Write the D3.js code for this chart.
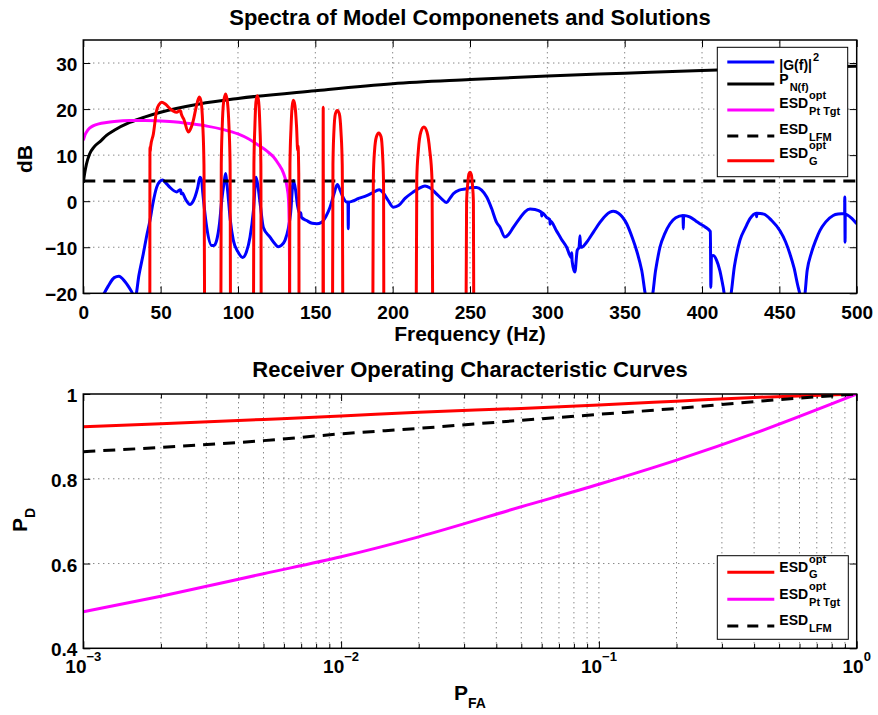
<!DOCTYPE html>
<html>
<head>
<meta charset="utf-8">
<script src="https://cdn.jsdelivr.net/npm/d3@7"></script>
<style>
body { margin: 0; background: #fff; }
text { font-family: "Liberation Sans", Arial, sans-serif; font-weight: bold; fill: #000; }
</style>
</head>
<body>
<div id="chart"></div>
<script>
var width = 878;
var height = 715;

// ---- spectra (dB vs Hz) ----
// |G(f)|^2
var gainSpec = [
    [12, -21], [16, -18.5], [20, -16.6], [23, -16.3], [27, -17.5], [31, -19.5], [33.5, -21],
    [36, -16], [38.8, -11.4], [41, -7.5], [43.1, -4.2], [45, -0.5], [47.4, 3.0], [49.5, 4.3],
    [51.3, 4.6], [53, 4.1], [56, 3.0], [60.4, 2.0], [62.5, 2.5], [63, 2.4], [63.3, 1.6], [64, 1.8],
    [66, 0.5], [69, -0.7], [71, 0], [72.2, 0.9], [74, 3], [75.4, 5.2], [76.5, 4.5], [77.2, 2],
    [79.8, -5.7], [83, -9.6], [84.5, -9.6], [86.2, -8.5], [88, -5], [89.5, 0.2], [91, 4], [92, 6],
    [92.8, 4], [93.7, 0.9], [95, -4], [97, -8.5], [100, -11], [103, -12.2], [105.5, -11],
    [107.8, -7.8], [110, -2], [111.7, 5.2], [113, 3], [114.5, -1], [116.4, -5.7], [120.7, -7.8],
    [124, -9.3], [126, -9.9], [128, -9.6], [130.4, -8.5], [132.5, -6], [134, -2.7], [135.8, 4.5],
    [137.2, 2.5], [138.5, -1], [140, -2.7], [140.6, -2.5], [141, -3.5], [144.4, -4.2], [148, -4.8],
    [150.9, -4.9], [154, -4.6], [157, -3.2], [159.5, -1.3], [162, 1.5], [164.2, 3.6], [166, 2.4],
    [168, 0.8], [170.3, -0.2], [171.1, -0.2], [171.3, -6.0], [171.5, -0.3], [174, 0], [178, 0.6],
    [183.2, 1.2], [187, 1.8], [191.3, 2.5], [194, 1.8], [197, 0.2], [200.4, -1.3], [204, -0.9],
    [208, 0.6], [213.3, 2.0], [217, 2.8], [220.9, 3.3], [224, 2.9], [228, 1.7], [232, 0.4],
    [234.9, -0.3], [237, 0.6], [239.2, 1.6], [243, 2.4], [247.8, 2.7], [251, 3.0], [254.3, 3.0],
    [257.5, 2.4], [260.8, 0.9], [264, -1.6], [267.2, -4.6], [269.3, -5.6], [272.6, -7.8],
    [275, -7.2], [278, -5.7], [282, -3.8], [285.5, -2.3], [288.8, -1.7], [292, -1.8], [296.2, -2.4],
    [296.4, -3.2], [296.6, -2.5], [299.5, -3.5], [301.6, -4.0], [301.8, -5.0], [302, -4.3],
    [306, -6.5], [309, -8.2], [312.5, -10], [315.6, -12.3], [315.8, -11.2], [316, -13],
    [317.8, -15.4], [319.3, -10.7], [320.5, -10], [321.1, -7.5], [321.5, -10], [322.2, -10],
    [325.4, -8.9], [330, -6.6], [334, -4.6], [338, -3.0], [342.6, -2.2], [346, -2.6], [351.3, -4.9],
    [355, -8], [357.7, -10.7], [361, -15], [364.2, -21], [367.4, -21], [370, -15], [372.8, -10],
    [376, -7], [379.3, -4.9], [383, -3.6], [387.7, -3.1], [387.9, -6.0], [388.1, -3.1], [392, -3.4],
    [396, -4.3], [398.6, -4.9], [402, -5.6], [405.4, -6.6], [405.7, -18.7], [406.1, -12],
    [407.3, -11.8], [409.5, -12.9], [411.5, -15], [413.7, -18.7], [415, -21], [418, -21],
    [421, -14], [424.5, -8.5], [428, -5.8], [431, -3.8], [435.1, -2.6], [435.3, -3.4],
    [435.5, -2.6], [440, -2.8], [445, -4.2], [450.4, -6.4], [454, -8.8], [456.8, -11.4],
    [459.5, -14.5], [462.2, -18.7], [464.4, -21], [466, -21], [468, -15], [470.8, -11.1],
    [473.5, -8.5], [476.2, -6.4], [480, -4.5], [484.8, -3.1], [488, -2.8], [492.2, -2.7],
    [492.3, 0.9], [492.5, -8.9], [492.6, -2.8], [494, -3.0], [497, -3.8], [500, -4.9]
];

// P_N(f)
var noiseFreq = [0, 1, 2, 4, 7, 11, 15, 20, 30, 40, 50, 75, 100, 150, 200, 250, 300, 350, 400, 450, 500];
var noiseDb = [4.0, 6.3, 8.0, 10.2, 11.8, 13.0, 14.3, 15.4, 17.1, 18.3, 19.3, 21.1, 22.3, 24.0, 25.5, 26.4, 27.2, 27.8, 28.4, 28.9, 29.3];

// ESD opt, point target
var ptFreq = [0, 1, 3, 6, 10, 15, 20, 30, 40, 50, 60, 70, 80, 90, 100, 107, 114, 119, 123, 126, 129.5, 131.5, 132.7, 133.2, 133.5];
var ptDb = [13.2, 14.3, 15.5, 16.3, 16.8, 17.1, 17.3, 17.5, 17.5, 17.4, 17.2, 16.8, 16.3, 15.6, 14.6, 13.5, 12.0, 10.8, 9.6, 8.2, 6.0, 3.5, 0.2, -8, -25];

// ESD LFM
var lfmFreq = [0, 500];
var lfmDb = [4.4, 4.4];

// ESD opt, G
var esdG = [
    [43.0, -40], [43.1, 11.7], [43.3, 10.8], [43.5, 11.8], [45.3, 14.6], [47.4, 19.7], [49, 21],
    [50.7, 21.5], [53, 21.1], [56, 20.1], [58, 19.6], [60.4, 19.3], [62.5, 19.7], [63, 19.5],
    [63.3, 19], [65, 17.8], [67.9, 15], [69.5, 15.8], [71.1, 17.5], [73, 20.5], [75, 22.6],
    [76.2, 21.5], [77.2, 16.8], [78, 8], [78.7, -40],
    [88.8, -40], [89.2, 8], [89.8, 16], [90.7, 21.5], [92, 23.3], [93.2, 21.5], [94.2, 16], [94.9, 8], [95.3, -40],
    [109.9, -40], [110.3, 8], [110.9, 16], [111.6, 21.5], [112.5, 22.9], [113.4, 21.5], [114.2, 16], [114.8, 8], [115.1, -40],
    [133.2, -40], [133.6, 8], [134.3, 16], [135, 20.5], [135.8, 21.9], [136.8, 20.8], [137.9, 16], [138.6, 11], [138.8, 12], [139.3, 6], [139.6, -40],
    [154.9, -40], [155.1, 20.4], [155.3, -40],
    [161, -40], [161.4, 8], [162, 15], [163, 19], [164.2, 19.7], [165.5, 19], [166.6, 15], [167.4, 8], [168, -40],
    [187, -40], [187.5, 5], [188.3, 11], [189.5, 14], [191, 14.8], [192.5, 14], [193.5, 10], [194.1, 4], [194.4, -40],
    [215, -40], [215.6, 5], [216.6, 11], [218.2, 15], [220.2, 16.1], [222.2, 15], [224, 11], [225.4, 5], [226.2, -40],
    [247.2, -40], [247.8, 0], [248.6, 4], [249.3, 5.9], [250, 6.3], [250.8, 5.8], [251.6, 3.5], [252.2, 0], [252.6, -40]
];

// ---- ROC curves ----
var pfa = [0.001, 0.002, 0.005, 0.01, 0.02, 0.05, 0.1, 0.2, 0.4, 1];
var rocG = [0.923, 0.930, 0.940, 0.948, 0.957, 0.966, 0.974, 0.983, 0.992, 1.0];
var rocPt = [0.486, 0.523, 0.576, 0.616, 0.663, 0.734, 0.787, 0.844, 0.907, 1.0];
var rocLfm = [0.864, 0.874, 0.890, 0.906, 0.919, 0.938, 0.952, 0.966, 0.982, 1.0];

// ticks
var specXTicks = [0, 50, 100, 150, 200, 250, 300, 350, 400, 450, 500];
var specYTicks = [-20, -10, 0, 10, 20, 30];
var rocXTicks = [1e-3, 1e-2, 1e-1, 1];
var rocXExp = ["\u22123", "\u22122", "\u22121", "0"];
var rocYTicks = [0.4, 0.6, 0.8, 1];

var svg = d3.select("#chart")
    .append("svg")
    .attr("width", width)
    .attr("height", height);

var x1 = d3.scaleLinear().domain([0, 500]).range([83.3, 856.7]);
var y1 = d3.scaleLinear().domain([-20, 35]).range([293.3, 40]);
var x2 = d3.scaleLog().domain([1e-3, 1]).range([83.3, 856.7]);
var y2 = d3.scaleLinear().domain([0.4, 1]).range([648.3, 394]);

var minorTicks = x2.ticks().filter(function(d) { return rocXTicks.indexOf(d) < 0 });

function drawGrid(g, xs, ys, xv, yv) {
    var yb = ys.range()[0], yt = ys.range()[1];
    var xl = xs.range()[0], xr = xs.range()[1];
    g.selectAll(".gx").data(xv).enter().append("line")
        .attr("x1", function(d) { return xs(d) }).attr("x2", function(d) { return xs(d) })
        .attr("y1", yb).attr("y2", yt);
    g.selectAll(".gy").data(yv).enter().append("line")
        .attr("x1", xl).attr("x2", xr)
        .attr("y1", function(d) { return ys(d) }).attr("y2", function(d) { return ys(d) });
    g.selectAll("line")
        .attr("stroke", "#555")
        .attr("stroke-width", 1)
        .attr("stroke-dasharray", "1,4");
}

function cleanAxis(sel, size) {
    sel.select(".domain").remove();
    sel.attr("font-size", size)
        .attr("font-family", "Liberation Sans, Arial, sans-serif");
    sel.selectAll("line").attr("stroke", "#000").attr("stroke-width", 1);
}

function drawBox(g, xs, ys) {
    g.append("rect")
        .attr("x", xs.range()[0]).attr("y", ys.range()[1])
        .attr("width", xs.range()[1] - xs.range()[0])
        .attr("height", ys.range()[0] - ys.range()[1])
        .attr("fill", "none").attr("stroke", "#000").attr("stroke-width", 1.5);
}

function clipFor(id, xs, ys) {
    svg.append("clipPath").attr("id", id).append("rect")
        .attr("x", xs.range()[0]).attr("y", ys.range()[1])
        .attr("width", xs.range()[1] - xs.range()[0])
        .attr("height", ys.range()[0] - ys.range()[1]);
}

function legendBox(g, x, y, w, h, entries, rows) {
    g.append("rect").attr("x", x).attr("y", y).attr("width", w).attr("height", h)
        .attr("fill", "#fff").attr("stroke", "#000").attr("stroke-width", 1);
    entries.forEach(function(e, i) {
        var ly = rows[i][0], by = rows[i][1];
        g.append("line")
            .attr("x1", x + 10).attr("x2", x + 57)
            .attr("y1", ly).attr("y2", ly)
            .attr("stroke", e.color).attr("stroke-width", 3)
            .attr("stroke-dasharray", e.dash ? "11,9" : null);
        var t = g.append("text").attr("x", x + 62).attr("y", by)
            .attr("font-size", 14).text(e.main);
        var tw = t.node().getComputedTextLength();
        if (e.sup) {
            g.append("text").attr("x", x + 63 + tw).attr("y", by - 9)
                .attr("font-size", 11).text(e.sup);
        }
        if (e.sub) {
            g.append("text").attr("x", x + 63 + tw).attr("y", by + 6.5)
                .attr("font-size", 11).text(e.sub);
        }
    });
}

// ================= top: spectra =================
var top_g = svg.append("g");
clipFor("clipTop", x1, y1);

drawGrid(top_g.append("g"), x1, y1,
    specXTicks.slice(1, -1), specYTicks.slice(1));

top_g.append("g").attr("transform", "translate(0," + y1.range()[0] + ")")
    .call(d3.axisBottom(x1).tickValues(specXTicks).tickSize(-7).tickSizeOuter(0).tickPadding(12).tickFormat(d3.format("d")))
    .call(cleanAxis, 19);
top_g.append("g").attr("transform", "translate(0," + y1.range()[1] + ")")
    .call(d3.axisTop(x1).tickValues(specXTicks).tickSize(-7).tickSizeOuter(0).tickFormat(""))
    .call(cleanAxis, 19);
top_g.append("g").attr("transform", "translate(" + x1.range()[0] + ",0)")
    .call(d3.axisLeft(y1).tickValues(specYTicks).tickSize(-7).tickSizeOuter(0).tickPadding(6).tickFormat(d3.format("d")))
    .call(cleanAxis, 19)
    .selectAll("text").attr("dy", "0.4em");
top_g.append("g").attr("transform", "translate(" + x1.range()[1] + ",0)")
    .call(d3.axisRight(y1).tickValues(specYTicks).tickSize(-7).tickSizeOuter(0).tickFormat(""))
    .call(cleanAxis, 19);

var line1 = d3.line()
    .x(function(d) { return x1(d[0]) })
    .y(function(d) { return y1(d[1]) })
    .curve(d3.curveMonotoneX);

var curves = top_g.append("g").attr("clip-path", "url(#clipTop)");
curves.append("path").attr("d", line1(gainSpec))
    .attr("fill", "none").attr("stroke", "#0000ff").attr("stroke-width", 3);
curves.append("path").attr("d", line1(d3.zip(noiseFreq, noiseDb)))
    .attr("fill", "none").attr("stroke", "#000").attr("stroke-width", 3);
curves.append("path").attr("d", line1(d3.zip(ptFreq, ptDb)))
    .attr("fill", "none").attr("stroke", "#ff00ff").attr("stroke-width", 3);
curves.append("path").attr("d", line1(d3.zip(lfmFreq, lfmDb)))
    .attr("fill", "none").attr("stroke", "#000").attr("stroke-width", 3)
    .attr("stroke-dasharray", "12,8");
curves.append("path").attr("d", line1(esdG))
    .attr("fill", "none").attr("stroke", "#ff0000").attr("stroke-width", 3)
    .attr("stroke-linejoin", "round");

drawBox(top_g, x1, y1);

top_g.append("text").attr("x", 470).attr("y", 25).attr("text-anchor", "middle")
    .attr("font-size", 22).text("Spectra of Model Componenets and Solutions");
top_g.append("text").attr("x", 470).attr("y", 341).attr("text-anchor", "middle")
    .attr("font-size", 21).text("Frequency (Hz)");
top_g.append("text").attr("transform", "translate(31.5,159) rotate(-90)")
    .attr("text-anchor", "middle").attr("font-size", 21).text("dB");

legendBox(top_g, 717.3, 47.3, 130.4, 129.4, [
    {color: "#0000ff", main: "|G(f)|", sup: "2"},
    {color: "#000", main: "P", sub: "N(f)"},
    {color: "#ff00ff", main: "ESD", sup: "opt", sub: "Pt Tgt"},
    {color: "#000", dash: true, main: "ESD", sub: "LFM"},
    {color: "#ff0000", main: "ESD", sup: "opt", sub: "G"}
], [[62, 69.5], [84, 84], [110, 108.3], [136, 134.3], [160.7, 158.3]]);

// ================= bottom: ROC =================
var bot_g = svg.append("g");
clipFor("clipBot", x2, y2);

drawGrid(bot_g.append("g"), x2, y2,
    minorTicks.concat([1e-2, 1e-1]), [0.6, 0.8]);

bot_g.append("g").attr("transform", "translate(0," + y2.range()[0] + ")")
    .call(d3.axisBottom(x2).tickValues(rocXTicks).tickSize(-7).tickSizeOuter(0).tickFormat(""))
    .call(cleanAxis, 19);
bot_g.append("g").attr("transform", "translate(0," + y2.range()[0] + ")")
    .call(d3.axisBottom(x2).tickValues(minorTicks).tickSize(-4.5).tickSizeOuter(0).tickFormat(""))
    .call(cleanAxis, 19);
bot_g.append("g").attr("transform", "translate(0," + y2.range()[1] + ")")
    .call(d3.axisTop(x2).tickValues(rocXTicks).tickSize(-7).tickSizeOuter(0).tickFormat(""))
    .call(cleanAxis, 19);
bot_g.append("g").attr("transform", "translate(0," + y2.range()[1] + ")")
    .call(d3.axisTop(x2).tickValues(minorTicks).tickSize(-4.5).tickSizeOuter(0).tickFormat(""))
    .call(cleanAxis, 19);
bot_g.append("g").attr("transform", "translate(" + x2.range()[0] + ",0)")
    .call(d3.axisLeft(y2).tickValues(rocYTicks).tickSize(-7).tickSizeOuter(0).tickPadding(6).tickFormat(function(d) { return String(d) }))
    .call(cleanAxis, 19)
    .selectAll("text").attr("dy", "0.4em");
bot_g.append("g").attr("transform", "translate(" + x2.range()[1] + ",0)")
    .call(d3.axisRight(y2).tickValues(rocYTicks).tickSize(-7).tickSizeOuter(0).tickFormat(""))
    .call(cleanAxis, 19);

// decade labels 10^k
var xl = bot_g.selectAll(".xlab").data(rocXTicks).enter().append("text")
    .attr("x", function(d) { return x2(d) })
    .attr("y", 673)
    .attr("text-anchor", "middle")
    .attr("font-size", 19);
xl.append("tspan").text("10");
xl.append("tspan").attr("dy", -12).attr("font-size", 13)
    .text(function(d, i) { return rocXExp[i] });

var line2 = d3.line()
    .x(function(d) { return x2(d[0]) })
    .y(function(d) { return y2(d[1]) })
    .curve(d3.curveMonotoneX);

var roc = bot_g.append("g").attr("clip-path", "url(#clipBot)");
roc.append("path").attr("d", line2(d3.zip(pfa, rocG)))
    .attr("fill", "none").attr("stroke", "#ff0000").attr("stroke-width", 3);
roc.append("path").attr("d", line2(d3.zip(pfa, rocPt)))
    .attr("fill", "none").attr("stroke", "#ff00ff").attr("stroke-width", 3);
roc.append("path").attr("d", line2(d3.zip(pfa, rocLfm)))
    .attr("fill", "none").attr("stroke", "#000").attr("stroke-width", 3)
    .attr("stroke-dasharray", "12,8");

drawBox(bot_g, x2, y2);

bot_g.append("text").attr("x", 470).attr("y", 377).attr("text-anchor", "middle")
    .attr("font-size", 22).text("Receiver Operating Characteristic Curves");

var pfaLab = bot_g.append("text").attr("x", 470).attr("y", 700)
    .attr("text-anchor", "middle").attr("font-size", 21);
pfaLab.append("tspan").text("P");
pfaLab.append("tspan").attr("dy", 8).attr("font-size", 14).text("FA");

var pdLab = bot_g.append("text").attr("transform", "translate(27,520) rotate(-90)")
    .attr("text-anchor", "middle").attr("font-size", 21);
pdLab.append("tspan").text("P");
pdLab.append("tspan").attr("dy", 8).attr("font-size", 14).text("D");

legendBox(bot_g, 717.3, 555.7, 131, 83.6, [
    {color: "#ff0000", main: "ESD", sup: "opt", sub: "G"},
    {color: "#ff00ff", main: "ESD", sup: "opt", sub: "Pt Tgt"},
    {color: "#000", dash: true, main: "ESD", sub: "LFM"}
], [[572.3, 571.7], [599.3, 599.3], [626, 625]]);
</script>
</body>
</html>
